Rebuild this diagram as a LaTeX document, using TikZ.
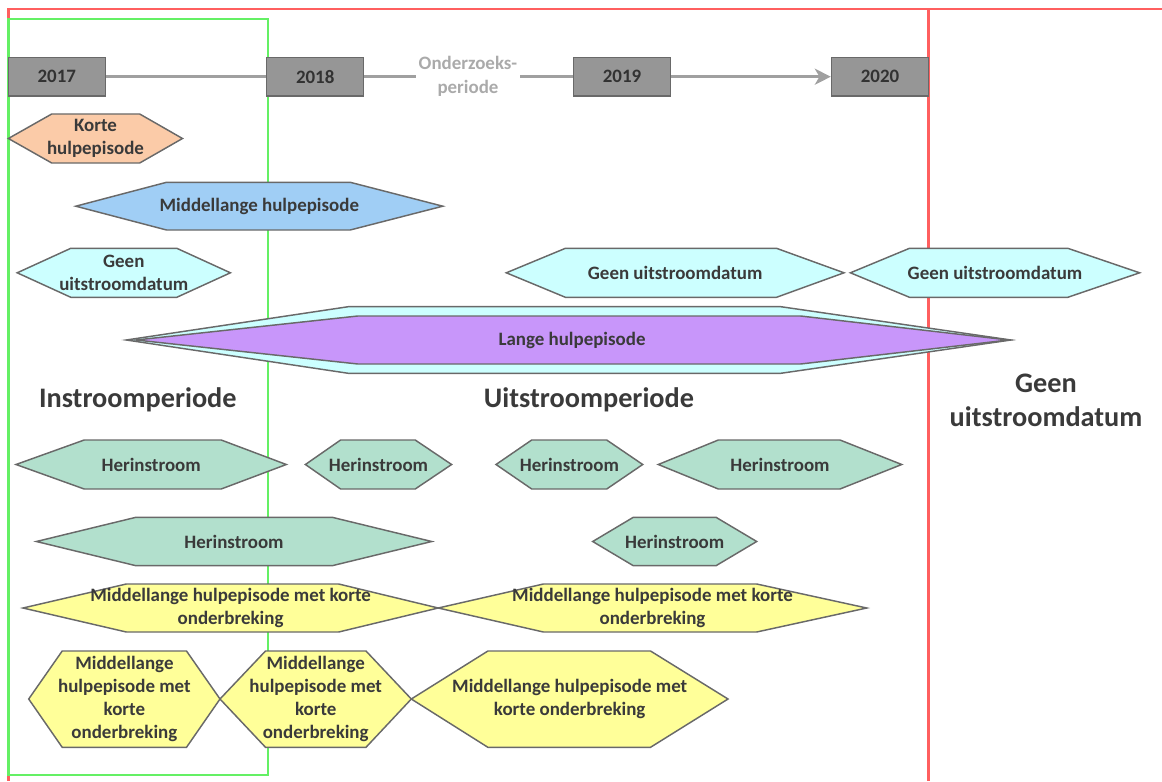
\documentclass[tikz,border=0pt]{standalone}
\usepackage{fontspec}
\setmainfont{Carlito}
\usetikzlibrary{arrows.meta}

\tikzset{every picture/.style={line width=0.75pt}}
\tikzset{
  hexline/.style={draw={rgb, 255:red, 105; green, 105; blue, 105}, line width=1.1pt},
  peachhex/.style={hexline, fill={rgb, 255:red, 251; green, 203; blue, 168}},
  bluehex/.style={hexline, fill={rgb, 255:red, 160; green, 206; blue, 245}},
  cyanhex/.style={hexline, fill={rgb, 255:red, 204; green, 255; blue, 255}},
  purplehex/.style={hexline, fill={rgb, 255:red, 200; green, 150; blue, 250}},
  minthex/.style={hexline, fill={rgb, 255:red, 178; green, 224; blue, 205}},
  yellowhex/.style={hexline, fill={rgb, 255:red, 255; green, 255; blue, 153}},
  lbl/.style={inner sep=0.75pt, align=center, text={rgb, 255:red, 58; green, 58; blue, 58}, font=\fontsize{14.2}{17.3}\selectfont\bfseries},
  biglbl/.style={lbl, font=\fontsize{21.2}{25.5}\selectfont\bfseries},
  yearbox/.style={draw={rgb, 255:red, 105; green, 105; blue, 105}, fill={rgb, 255:red, 150; green, 150; blue, 150}, line width=1pt, minimum width=72.8pt, minimum height=29pt, inner sep=0pt, text={rgb, 255:red, 50; green, 50; blue, 50}, font=\fontsize{14.2}{17.3}\selectfont\bfseries},
  timeline/.style={draw={rgb, 255:red, 160; green, 160; blue, 160}, line width=2.4pt},
  redframe/.style={draw={rgb, 255:red, 255; green, 95; blue, 95}, line width=1.8pt},
  greenframe/.style={draw={rgb, 255:red, 100; green, 240; blue, 100}, line width=1.8pt}
}

\begin{document}
\begin{tikzpicture}[x=0.75pt,y=0.75pt,yscale=-1,xscale=1]
\useasboundingbox (0,0) rectangle (1162,781);

%Straight Lines [frame]
\draw [redframe] (1162,9.3) -- (8.4,9.3) -- (8.4,781) ;
\draw [redframe] (928.5,9.3) -- (928.5,781) ;
%Shape: Rectangle [instroomperiode]
\draw [greenframe] (8.4,19.3) rectangle (268,775);

%Shape: Hexagon [korte]
\draw [peachhex] (8.4,138.5) -- (51.7,114) -- (139.7,114) -- (182.5,138.5) -- (139.7,163) -- (51.7,163) -- cycle ;
%Shape: Hexagon [middellang]
\draw [bluehex] (75.8,206.2) -- (166.5,182.3) -- (350.2,182.3) -- (442.8,206.2) -- (350.2,230) -- (166.5,230) -- cycle ;
%Shape: Hexagon [geen uitstroom]
\draw [cyanhex] (17.2,272.8) -- (70.8,248.3) -- (176.8,248.3) -- (230.4,272.8) -- (176.8,297.3) -- (70.8,297.3) -- cycle ;
\draw [cyanhex] (506.3,272.8) -- (565.4,248.3) -- (776.5,248.3) -- (844,272.8) -- (776.5,297.3) -- (565.4,297.3) -- cycle ;
\draw [cyanhex] (850.4,272.8) -- (909.5,248.3) -- (1067.8,248.3) -- (1139.6,272.8) -- (1067.8,297.3) -- (909.5,297.3) -- cycle ;
%Shape: Hexagon [lang]
\draw [cyanhex] (126.3,340) -- (348.3,306.7) -- (780.8,306.7) -- (1010.9,340) -- (780.8,373.3) -- (348.3,373.3) -- cycle ;
\draw [purplehex] (136,340) -- (357.8,316) -- (800.6,316) -- (1008.7,340) -- (800.6,364) -- (357.8,364) -- cycle ;
%Shape: Hexagon [herinstroom]
\draw [minthex] (16,464.5) -- (84.2,440) -- (221.2,440) -- (286.3,464.5) -- (221.2,489) -- (84.2,489) -- cycle ;
\draw [minthex] (305.4,464.5) -- (340.6,440) -- (415.2,440) -- (451.6,464.5) -- (415.2,489) -- (340.6,489) -- cycle ;
\draw [minthex] (496,464.5) -- (531.7,440) -- (606.7,440) -- (642.7,464.5) -- (606.7,489) -- (531.7,489) -- cycle ;
\draw [minthex] (658.3,464.5) -- (718.3,440) -- (840,440) -- (901.7,464.5) -- (840,489) -- (718.3,489) -- cycle ;
\draw [minthex] (36.4,541.5) -- (135.9,517.3) -- (332.2,517.3) -- (431.7,541.5) -- (332.2,565.7) -- (135.9,565.7) -- cycle ;
\draw [minthex] (592.7,541.5) -- (633.3,517.3) -- (716,517.3) -- (756.7,541.5) -- (716,565.7) -- (633.3,565.7) -- cycle ;
%Shape: Hexagon [onderbreking]
\draw [yellowhex] (23,608) -- (126.3,584) -- (338.7,584) -- (438.2,608) -- (338.7,632) -- (126.3,632) -- cycle ;
\draw [yellowhex] (438.2,608) -- (543.4,584) -- (756.7,584) -- (866.7,608) -- (756.7,632) -- (543.4,632) -- cycle ;
\draw [yellowhex] (28.7,699) -- (62.2,651) -- (186.5,651) -- (220,699) -- (186.5,747.3) -- (62.2,747.3) -- cycle ;
\draw [yellowhex] (220,699) -- (265.5,651) -- (366,651) -- (411.3,699) -- (366,747.3) -- (265.5,747.3) -- cycle ;
\draw [yellowhex] (411.3,699) -- (487.9,651) -- (650.5,651) -- (728,699) -- (650.5,747.3) -- (487.9,747.3) -- cycle ;

% Timeline
\node (y2017) [yearbox] at (56.8,76.7) {2017};
\node (y2018) [yearbox] at (315.2,76.7) {2018};
\node (y2019) [yearbox] at (622,76.7) {2019};
\node (y2020) [yearbox] at (880,76.7) {2020};
\draw (468,76.7) node (onderzoek) [lbl, inner sep=2pt, text={rgb, 255:red, 170; green, 170; blue, 170}, font=\fontsize{14.2}{18}\selectfont\bfseries] {Onderzoeks-\\periode};
\draw [timeline] (y2017) -- (y2018) ;
\draw [timeline] (y2018) -- (onderzoek) -- (y2019) ;
\draw [timeline, -{Stealth[length=12pt,width=12pt,inset=3.5pt]}] (y2019) -- (y2020) ;

% Text Node
\draw (95.5,138.5) node (korte) [lbl] {Korte\\hulpepisode};
% Text Node
\draw (259.3,206.2) node (middellang) [lbl] {Middellange hulpepisode};
% Text Node
\draw (123.8,272.8) node (geenA) [lbl] {Geen\\uitstroomdatum};
% Text Node
\draw (675.2,272.8) node (geenB) [lbl] {Geen uitstroomdatum};
% Text Node
\draw (995,272.8) node (geenC) [lbl] {Geen uitstroomdatum};
% Text Node
\draw (572,340) node (lang) [lbl] {Lange hulpepisode};
% Text Node
\draw (137.8,400) node (instroom) [biglbl] {Instroomperiode};
% Text Node
\draw (589,400) node (uitstroom) [biglbl] {Uitstroomperiode};
% Text Node
\draw (1046,400) node (geenuit) [biglbl] {Geen\\uitstroomdatum};
% Text Node
\draw (151.2,464.5) node (herA) [lbl] {Herinstroom};
\draw (378.5,464.5) node (herB) [lbl] {Herinstroom};
\draw (569.4,464.5) node (herC) [lbl] {Herinstroom};
\draw (780,464.5) node (herD) [lbl] {Herinstroom};
\draw (234,541.5) node (herE) [lbl] {Herinstroom};
\draw (674.7,541.5) node (herF) [lbl] {Herinstroom};
% Text Node
\draw (230.6,608) node (onderA) [lbl] {Middellange hulpepisode met korte\\onderbreking};
\draw (652.5,608) node (onderB) [lbl] {Middellange hulpepisode met korte\\onderbreking};
\draw (124.4,699) node (onderC) [lbl] {Middellange\\hulpepisode met\\korte\\onderbreking};
\draw (315.7,699) node (onderD) [lbl] {Middellange\\hulpepisode met\\korte\\onderbreking};
\draw (569.7,699) node (onderE) [lbl] {Middellange hulpepisode met\\korte onderbreking};

\end{tikzpicture}
\end{document}
